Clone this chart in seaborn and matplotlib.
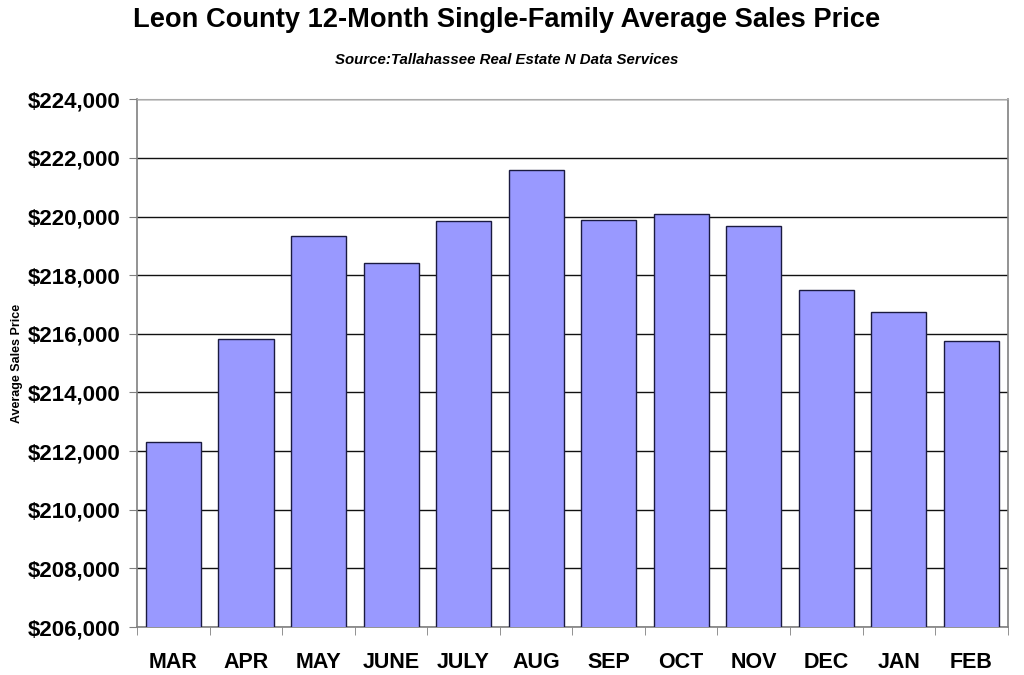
import numpy as np
import pandas as pd
import seaborn as sns
import matplotlib.pyplot as plt
from matplotlib.ticker import FuncFormatter, FixedLocator

months = ['MAR', 'APR', 'MAY', 'JUNE', 'JULY', 'AUG', 'SEP', 'OCT', 'NOV', 'DEC', 'JAN', 'FEB']
avg_price = [212310, 215820, 219330, 218420, 219860, 221600, 219885, 220080, 219690, 217490, 216760, 215760]
y_ticks = [206000, 208000, 210000, 212000, 214000, 216000, 218000, 220000, 222000, 224000]

df = pd.DataFrame({'month': months, 'price': avg_price})

sns.set_style('white')
plt.rcParams['font.family'] = ['Liberation Sans', 'DejaVu Sans']
plt.rcParams['text.color'] = 'black'
plt.rcParams['axes.labelcolor'] = 'black'
plt.rcParams['xtick.color'] = 'black'
plt.rcParams['ytick.color'] = 'black'

fig = plt.figure(figsize=(10.24, 6.75), dpi=100)
ax = fig.add_axes([0.134, 0.071, 0.850, 0.782])

sns.barplot(data=df, x='month', y='price', color='#9999FF', saturation=1,
            width=0.76, edgecolor='#1a1a40', linewidth=1.0, ax=ax, zorder=3)

ax.set_ylim(206000, 224000)
ax.set_xlim(-0.5, 11.5)
ax.set_yticks(y_ticks)
ax.yaxis.set_major_formatter(FuncFormatter(lambda v, p: '${:,.0f}'.format(v)))
ax.grid(axis='y', color='#111111', linewidth=1.0, zorder=0)
ax.set_axisbelow(True)

for s in ['left', 'bottom', 'right']:
    ax.spines[s].set_color('#808080')
    ax.spines[s].set_linewidth(1.2)
ax.spines['top'].set_color('#aaaaaa')

ax.tick_params(axis='y', length=6, color='#808080', labelcolor='black', direction='out', pad=6, left=True)
ax.tick_params(axis='x', which='major', length=0, pad=18, labelcolor='black')
ax.xaxis.set_minor_locator(FixedLocator(np.arange(-0.5, 12, 1)))
ax.tick_params(axis='x', which='minor', length=6, color='#808080', bottom=True)

for lab in ax.get_yticklabels():
    lab.set_fontsize(16)
    lab.set_fontweight('bold')
for lab in ax.get_xticklabels():
    lab.set_fontsize(15.5)
    lab.set_fontweight('bold')

ax.set_xlabel('')
ax.set_ylabel('Average Sales Price', fontsize=9, fontweight='bold', color='black')
ax.yaxis.set_label_coords(-0.131, 0.5)

fig.text(0.495, 0.97, 'Leon County 12-Month Single-Family Average Sales Price',
         ha='center', va='center', fontsize=19.6, fontweight='bold', color='black')
fig.text(0.495, 0.911, 'Source:Tallahassee Real Estate N Data Services',
         ha='center', va='center', fontsize=10.8, fontweight='bold', style='italic', color='black')

fig.savefig('out.png', dpi=100)
